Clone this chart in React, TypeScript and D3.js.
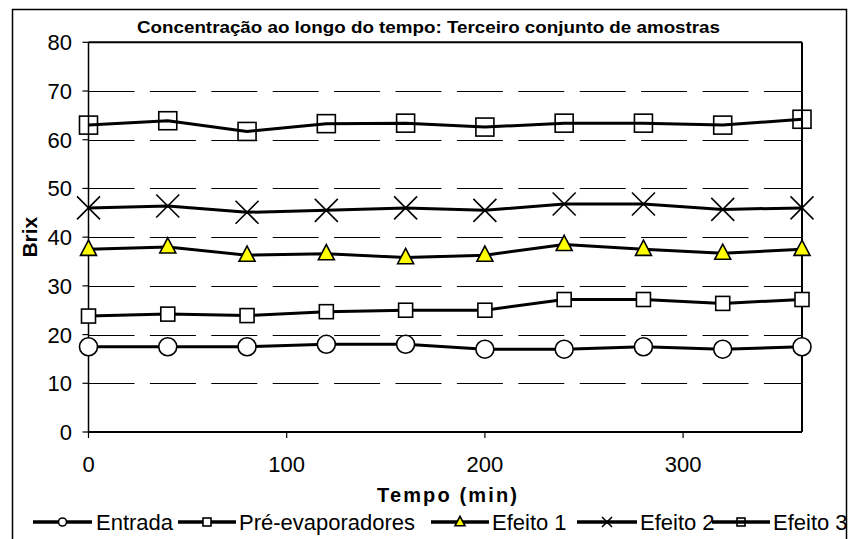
import React from "react";
import * as d3 from "d3";

// Sampling times (min)
const tempo = [0, 40, 80, 120, 160, 200, 240, 280, 320, 360];

// Brix readings per sampling point
const entrada = [17.5, 17.5, 17.5, 18.0, 18.0, 17.0, 17.0, 17.5, 17.0, 17.5];
const preEvaporadores = [23.8, 24.2, 23.9, 24.7, 25.0, 25.0, 27.2, 27.2, 26.4, 27.2];
const efeito1 = [37.5, 38.0, 36.3, 36.6, 35.8, 36.3, 38.5, 37.5, 36.7, 37.5];
const efeito2 = [46.0, 46.4, 45.1, 45.5, 46.0, 45.5, 46.8, 46.8, 45.7, 46.0];
const efeito3 = [63.0, 63.9, 61.7, 63.3, 63.4, 62.6, 63.4, 63.4, 63.0, 64.2];

const xTicks = [0, 100, 200, 300];
const yTicks = [0, 10, 20, 30, 40, 50, 60, 70, 80];
const gridValues = [10, 20, 30, 40, 50, 60, 70];

const seriesNames = ["Entrada", "Pré-evaporadores", "Efeito 1", "Efeito 2", "Efeito 3"];
const seriesValues = [entrada, preEvaporadores, efeito1, efeito2, efeito3];
const seriesMarkers = ["circle", "squareFilled", "triangle", "cross", "squareHollow"];

const title = "Concentração ao longo do tempo: Terceiro conjunto de amostras";
const xTitle = "Tempo (min)";
const yTitle = "Brix";

const W = 849;
const H = 539;
const FONT = "'Liberation Sans', Arial, sans-serif";

const plot = { left: 88.5, right: 802, top: 42.3, bottom: 432 };

const x = d3.scaleLinear().domain([0, 360]).range([plot.left, plot.right]);
const y = d3.scaleLinear().domain([0, 80]).range([plot.bottom, plot.top]);

function Marker({ kind, cx, cy, s }: { kind: string; cx: number; cy: number; s: number }) {
  const sw = 1.6;
  if (kind === "circle") {
    return <circle cx={cx} cy={cy} r={s / 2} fill="#fff" stroke="#000" strokeWidth={sw} />;
  }
  if (kind === "squareFilled" || kind === "squareHollow") {
    return (
      <rect
        x={cx - s / 2}
        y={cy - s / 2}
        width={s}
        height={s}
        fill={kind === "squareFilled" ? "#fff" : "none"}
        stroke="#000"
        strokeWidth={sw}
      />
    );
  }
  if (kind === "triangle") {
    const h = s * 0.95;
    const pts = `${cx},${cy - h * 0.6} ${cx + s / 2},${cy + h * 0.4} ${cx - s / 2},${cy + h * 0.4}`;
    return <polygon points={pts} fill="#ffff00" stroke="#000" strokeWidth={sw} strokeLinejoin="miter" />;
  }
  // cross
  const r = s / 2;
  return (
    <g stroke="#000" strokeWidth={sw}>
      <line x1={cx - r} y1={cy - r} x2={cx + r} y2={cy + r} />
      <line x1={cx - r} y1={cy + r} x2={cx + r} y2={cy - r} />
    </g>
  );
}

const plotMarkerSize: Record<string, number> = {
  circle: 18,
  squareFilled: 14,
  triangle: 16,
  cross: 23,
  squareHollow: 18,
};
const legendMarkerSize: Record<string, number> = {
  circle: 8,
  squareFilled: 8,
  triangle: 10,
  cross: 10,
  squareHollow: 8,
};

// Legend layout: line start/end and label start for each entry
const legendLines: [number, number][] = [
  [33, 92],
  [178, 236],
  [431, 489],
  [577, 637],
  [712, 770],
];
const legendTextX = [96, 239, 492, 640, 773];

export default function App() {
  const line = d3
    .line<number>()
    .x((_, i) => x(tempo[i]))
    .y((d) => y(d));

  const legendY = 522;

  return (
    <svg
      width={W}
      height={H}
      style={{ position: "absolute", left: 0, top: 0, background: "#fff" }}
      fontFamily={FONT}
    >
      <rect x={0} y={0} width={W} height={H} fill="#fff" />
      {/* chart frame */}
      <rect x={12.5} y={9.5} width={834} height={H + 20} fill="none" stroke="#000" strokeWidth={1.5} />

      {/* title */}
      <text
        x={428.5}
        y={33}
        textAnchor="middle"
        fontWeight="bold"
        fontSize={16}
        textLength={583}
        lengthAdjust="spacingAndGlyphs"
      >
        {title}
      </text>

      {/* dashed gridlines */}
      {gridValues.map((v) => (
        <line
          key={v}
          x1={plot.left}
          x2={plot.right}
          y1={Math.round(y(v)) + 0.5}
          y2={Math.round(y(v)) + 0.5}
          stroke="#000"
          strokeWidth={1}
          strokeDasharray="46 15.4"
        />
      ))}

      {/* plot area border */}
      <line x1={plot.left} x2={plot.right} y1={plot.top} y2={plot.top} stroke="#000" strokeWidth={2} />
      <line x1={plot.right} x2={plot.right} y1={plot.top} y2={plot.bottom} stroke="#000" strokeWidth={2} />
      <line x1={plot.left} x2={plot.left} y1={plot.top} y2={plot.bottom + 1} stroke="#000" strokeWidth={1.5} />
      <line x1={plot.left} x2={plot.right} y1={plot.bottom} y2={plot.bottom} stroke="#000" strokeWidth={2.2} />

      {/* y axis ticks and labels */}
      {yTicks.map((v) => (
        <g key={v}>
          <line x1={plot.left - 6} x2={plot.left} y1={y(v)} y2={y(v)} stroke="#000" strokeWidth={1.2} />
          <text x={72} y={y(v) + 8} textAnchor="end" fontSize={22}>
            {v}
          </text>
        </g>
      ))}

      {/* x axis ticks and labels */}
      {xTicks.map((v) => (
        <g key={v}>
          <line x1={x(v)} x2={x(v)} y1={plot.bottom} y2={plot.bottom + 6} stroke="#000" strokeWidth={1.2} />
          <text x={x(v)} y={471.5} textAnchor="middle" fontSize={22}>
            {v}
          </text>
        </g>
      ))}

      {/* axis titles */}
      <text
        x={447}
        y={502}
        textAnchor="middle"
        fontWeight="bold"
        fontSize={20}
        textLength={140}
        lengthAdjust="spacing"
      >
        {xTitle}
      </text>
      <text
        transform={`translate(37,${(plot.top + plot.bottom) / 2}) rotate(-90)`}
        textAnchor="middle"
        fontWeight="bold"
        fontSize={21}
      >
        {yTitle}
      </text>

      {/* series lines */}
      {seriesValues.map((vals, si) => (
        <path key={si} d={line(vals) || ""} fill="none" stroke="#000" strokeWidth={3} strokeLinejoin="round" />
      ))}

      {/* series markers */}
      {seriesValues.map((vals, si) => (
        <g key={si}>
          {vals.map((v, i) => (
            <Marker key={i} kind={seriesMarkers[si]} cx={x(tempo[i])} cy={y(v)} s={plotMarkerSize[seriesMarkers[si]]} />
          ))}
        </g>
      ))}

      {/* legend */}
      {seriesNames.map((name, si) => {
        const [l0, l1] = legendLines[si];
        return (
          <g key={name}>
            <line x1={l0} x2={l1} y1={legendY} y2={legendY} stroke="#000" strokeWidth={3.5} />
            <Marker kind={seriesMarkers[si]} cx={(l0 + l1) / 2} cy={legendY} s={legendMarkerSize[seriesMarkers[si]]} />
            <text x={legendTextX[si]} y={530} fontSize={22}>
              {name}
            </text>
          </g>
        );
      })}
    </svg>
  );
}
